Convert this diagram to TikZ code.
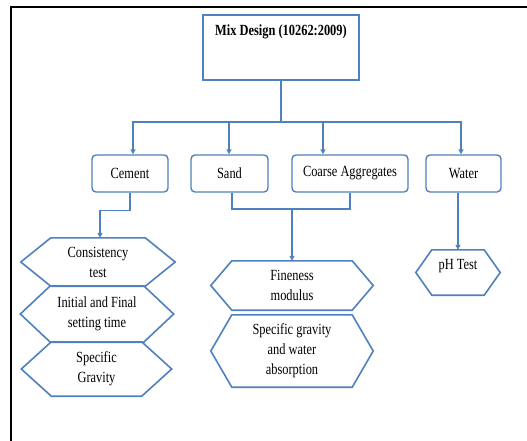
\documentclass[tikz,border=0pt]{standalone}
\usepackage{fontspec}
\setmainfont{Liberation Serif}[FakeStretch=0.8]
\usetikzlibrary{arrows.meta}
\definecolor{obl}{RGB}{79,129,189}
\tikzset{
  txt/.style={font=\fontsize{15.5}{20}\selectfont, align=center, text=black},
  box/.style={txt, draw=obl, line width=1.4pt, rounded corners=4pt, minimum height=37pt, inner sep=0pt},
  hexn/.style={txt, draw=none, inner sep=0pt},
  hexline/.style={draw=obl, line width=1.6pt, line join=miter},
  conn/.style={draw=obl, line width=1.5pt},
  arr/.style={conn, -{Triangle[length=5pt,width=5pt]}},
}
\begin{document}
\begin{tikzpicture}[x=1pt,y=-1pt]
\useasboundingbox (0,0) rectangle (527,440);
\fill[white] (0,0) rectangle (527,440);
% frame
\draw[black, line width=2.2pt] (11,445) -- (11,7) -- (530,7);
% top box
\node[draw=obl, line width=1.4pt, minimum width=156pt, minimum height=65pt, inner sep=0pt,
  label={[name=mixtxt, txt, font=\fontsize{15.5}{20}\selectfont\bfseries, anchor=center, yshift=-18pt]north:{Mix Design (10262:2009)}}]
  (mix) at (281,47.5) {};
% material boxes
\node[box, minimum width=76pt] (cement) at (130,173.5) {Cement};
\node[box, minimum width=77pt] (sand) at (229.5,173.5) {Sand};
\node[box, minimum width=116pt] (coarse) at (350,173.5) {Coarse Aggregates};
\node[box, minimum width=75pt] (water) at (463.5,173.5) {Water};
% hexagon nodes
\node[hexn, minimum width=154pt, minimum height=48pt] (c1) at (98,262) {Consistency\\test};
\node[hexn, minimum width=153pt, minimum height=56pt] (c2) at (97,314) {Initial and Final\\setting time};
\node[hexn, minimum width=150pt, minimum height=54pt] (c3) at (96.5,369) {Specific\\Gravity};
\node[hexn, minimum width=162pt, minimum height=49pt] (f1) at (292,285.5) {Fineness\\modulus};
\node[hexn, minimum width=162pt, minimum height=72pt] (f2) at (292,351) {Specific gravity\\and water\\absorption};
\node[hexn, minimum width=84pt, minimum height=45pt] (ph) at (458,272.5) {};
\node[txt] (phtxt) at (458,266) {pH Test};
\foreach \n/\d in {c1/30,c2/30,c3/30,f1/21,f2/21,ph/16}
  \draw[hexline] (\n.west) -- ([xshift=\d pt]\n.north west) -- ([xshift=-\d pt]\n.north east)
    -- (\n.east) -- ([xshift=-\d pt]\n.south east) -- ([xshift=\d pt]\n.south west) -- cycle;
% connectors
\coordinate (bus) at (mix.south |- 0,122);
\draw[conn] (mix.south) -- (bus);
\draw[arr] (bus) -| ([xshift=3pt]cement.north);
\draw[arr] (bus) -| ([xshift=-2.5pt]water.north);
\draw[arr] ([xshift=-0.5pt]sand.north |- bus) -- ([xshift=-0.5pt]sand.north);
\draw[arr] ([xshift=-27pt]coarse.north |- bus) -- ([xshift=-27pt]coarse.north);
\draw[arr] (cement.south) -- ++(0,18) -| ([xshift=2pt]c1.north);
\coordinate (sj) at (f1.north |- 0,209);
\draw[conn] ([xshift=2.5pt]sand.south) |- (sj) -| (coarse.south);
\draw[arr] (sj) -- (f1.north);
\draw[arr] (ph.north |- water.south) -- (ph.north);
\end{tikzpicture}
\end{document}
